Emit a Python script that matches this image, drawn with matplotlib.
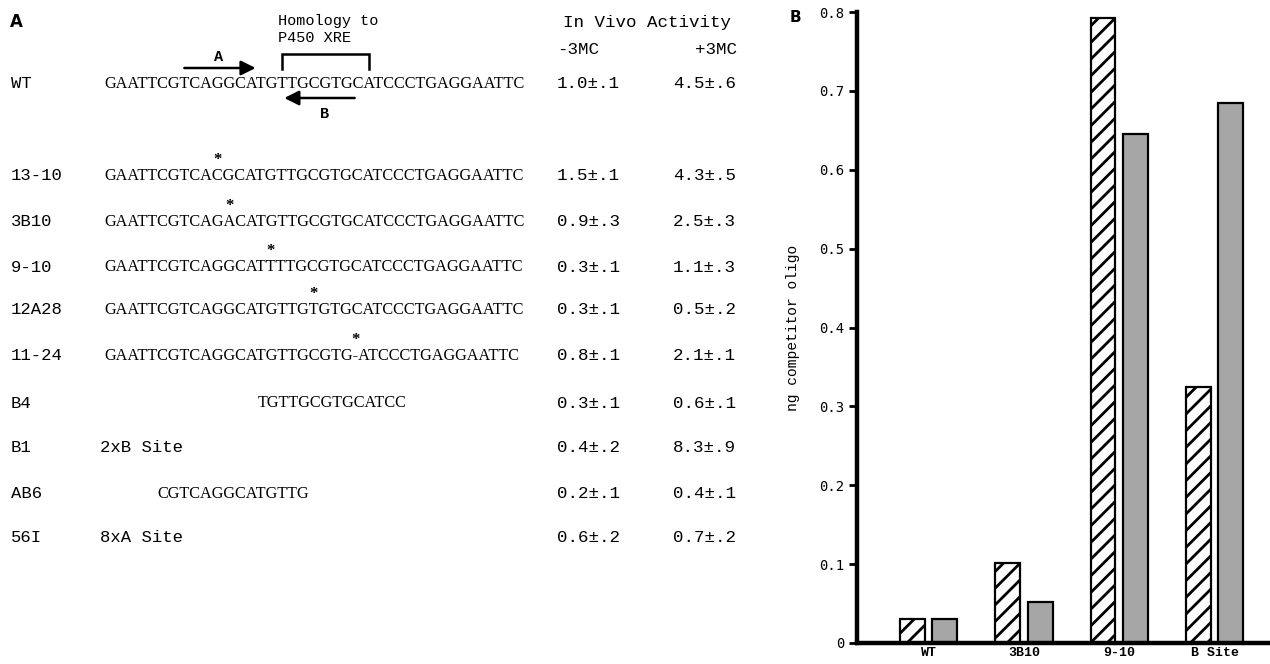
import numpy as np
import matplotlib
matplotlib.use('Agg')
import matplotlib.pyplot as plt
from matplotlib.font_manager import FontProperties

# oligo table (panel A)
mutants = ['WT', '13-10', '3B10', '9-10', '12A28', '11-24', 'B4', 'B1', 'AB6', '56I']
wt_seq = 'GAATTCGTCAGGCATGTTGCGTGCATCCCTGAGGAATTC'
sequences = [wt_seq,
             'GAATTCGTCACGCATGTTGCGTGCATCCCTGAGGAATTC',
             'GAATTCGTCAGACATGTTGCGTGCATCCCTGAGGAATTC',
             'GAATTCGTCAGGCATTTTGCGTGCATCCCTGAGGAATTC',
             'GAATTCGTCAGGCATGTTGTGTGCATCCCTGAGGAATTC',
             'GAATTCGTCAGGCATGTTGCGTG-ATCCCTGAGGAATTC',
             'TGTTGCGTGCATCC',
             '2xB Site',
             'CGTCAGGCATGTTG',
             '8xA Site']
seq_offset = [0, 0, 0, 0, 0, 0, 14, None, 5, None]   # position within WT, None = free text
mut_pos = [None, 10, 11, 15, 19, 23, None, None, None, None]
act_minus = ['1.0±.1', '1.5±.1', '0.9±.3', '0.3±.1', '0.3±.1',
             '0.8±.1', '0.3±.1', '0.4±.2', '0.2±.1', '0.6±.2']
act_plus = ['4.5±.6', '4.3±.5', '2.5±.3', '1.1±.3', '0.5±.2',
            '2.1±.1', '0.6±.1', '8.3±.9', '0.4±.1', '0.7±.2']
row_y = [84, 176, 222, 267, 310, 356, 403, 448, 494, 537]

# competition data (panel B)
competitors = ['WT', '3B10', '9-10', 'B Site']
ng_minus = [0.03, 0.102, 0.792, 0.325]
ng_plus = [0.03, 0.052, 0.645, 0.685]

W, H = 1270, 664
fig = plt.figure(figsize=(W / 100, H / 100), dpi=100)

# pixel-space canvas for the table
ax0 = fig.add_axes([0, 0, 1, 1])
ax0.set_xlim(0, W)
ax0.set_ylim(H, 0)
ax0.axis('off')

mono = 'Liberation Mono'
serif_fp = FontProperties(family='Liberation Serif', size=11.7)
renderer = fig.canvas.get_renderer()


def text_w(s):
    w, _, _ = renderer.get_text_width_height_descent(s, serif_fp, ismath=False)
    return w * 100 / fig.dpi


seq_x0 = 104


def char_x(i, frac=0.0):
    # left edge of WT character i (plus a fraction of its width)
    left = seq_x0 + text_w(wt_seq[:i]) if i > 0 else seq_x0
    return left + frac * text_w(wt_seq[i]) if frac else left


ax0.text(10, 22, 'A', fontsize=12, fontweight='bold', family='DejaVu Sans',
         va='center', ha='left')

for name, seq, off, mp, vm, vp, y in zip(mutants, sequences, seq_offset, mut_pos,
                                         act_minus, act_plus, row_y):
    ax0.text(11, y, name, family=mono, fontsize=12.4, va='center', ha='left')
    if off is None:
        ax0.text(100, y, seq, family=mono, fontsize=12.4, va='center', ha='left')
    else:
        ax0.text(char_x(off), y, seq, fontproperties=serif_fp, va='center', ha='left')
    if mp is not None:
        xs = seq_x0 + text_w(seq[:mp]) + text_w(seq[mp]) / 2
        ax0.text(xs, y - 16, '*', family='Liberation Serif', fontsize=12,
                 va='center', ha='center', fontweight='bold')
    ax0.text(557, y, vm, family=mono, fontsize=12.6, va='center', ha='left')
    ax0.text(673, y, vp, family=mono, fontsize=12.6, va='center', ha='left')

# column headers
ax0.text(563, 23, 'In Vivo Activity', family=mono, fontsize=12.6, va='center', ha='left')
ax0.text(557, 49, '-3MC', family=mono, fontsize=12.6, va='center', ha='left')
ax0.text(737, 49, '+3MC', family=mono, fontsize=12.6, va='center', ha='right')

# XRE homology bracket
ax0.text(278, 21, 'Homology to', family=mono, fontsize=11, va='center', ha='left')
ax0.text(278, 38, 'P450 XRE', family=mono, fontsize=11, va='center', ha='left')
bx0, bx1 = char_x(16, 0.5), char_x(24, 0.5)
ax0.plot([bx0, bx0, bx1, bx1], [69, 54, 54, 69], color='k', lw=1.8,
         solid_joinstyle='miter')

# primer arrows A and B
ax0.annotate('', xy=(char_x(14) - 2, 68), xytext=(char_x(8) - 5, 68),
             arrowprops=dict(arrowstyle='-|>', lw=1.8, color='k', mutation_scale=22,
                             shrinkA=0, shrinkB=0))
ax0.text((char_x(8) + char_x(14)) / 2 - 5, 57, 'A', family=mono, fontsize=11,
         fontweight='bold', va='center', ha='center')
ax0.annotate('', xy=(char_x(17) - 3, 98), xytext=(char_x(23) + 2, 98),
             arrowprops=dict(arrowstyle='-|>', lw=1.8, color='k', mutation_scale=22,
                             shrinkA=0, shrinkB=0))
ax0.text((char_x(17) + char_x(23)) / 2 + 5, 114, 'B', family=mono, fontsize=11,
         fontweight='bold', va='center', ha='center')

# panel B: bar chart
ax = fig.add_axes([857 / W, 1 - 643 / H, 1 - 857 / W, (643 - 12) / H])
ax.patch.set_alpha(0)
x = np.arange(len(competitors))
bw, off = 0.26, 0.17
plt.rcParams['hatch.linewidth'] = 2.0
ax.bar(x - off, ng_minus, bw, facecolor='white', edgecolor='black', hatch='//',
       linewidth=1.6, zorder=2)
ax.bar(x + off, ng_plus, bw, facecolor='#a6a6a6', edgecolor='black',
       linewidth=1.6, zorder=2)
ax.set_xlim(-0.75, 3.58)
ax.set_ylim(0, 0.8)
ax.set_yticks([0, 0.1, 0.2, 0.3, 0.4, 0.5, 0.6, 0.7, 0.8])
ax.set_yticklabels(['0', '0.1', '0.2', '0.3', '0.4', '0.5', '0.6', '0.7', '0.8'],
                   family='DejaVu Sans Mono', fontsize=10)
ax.set_xticks(x)
ax.set_xticklabels(competitors, family=mono, fontsize=9.5, fontweight='bold')
ax.tick_params(axis='y', direction='out', length=6, width=2, pad=3)
ax.tick_params(axis='x', length=0, pad=3)
for s in ['top', 'right']:
    ax.spines[s].set_visible(False)
ax.spines['left'].set_linewidth(3.2)
ax.spines['bottom'].set_linewidth(3.2)
ax.set_ylabel('ng competitor oligo', family=mono, fontsize=10.5, labelpad=14)
fig.text(795 / W, 1 - 17 / H, 'B', fontsize=11, fontweight='bold',
         family='DejaVu Sans', va='center', ha='center')

fig.savefig('out.png', dpi=100)
